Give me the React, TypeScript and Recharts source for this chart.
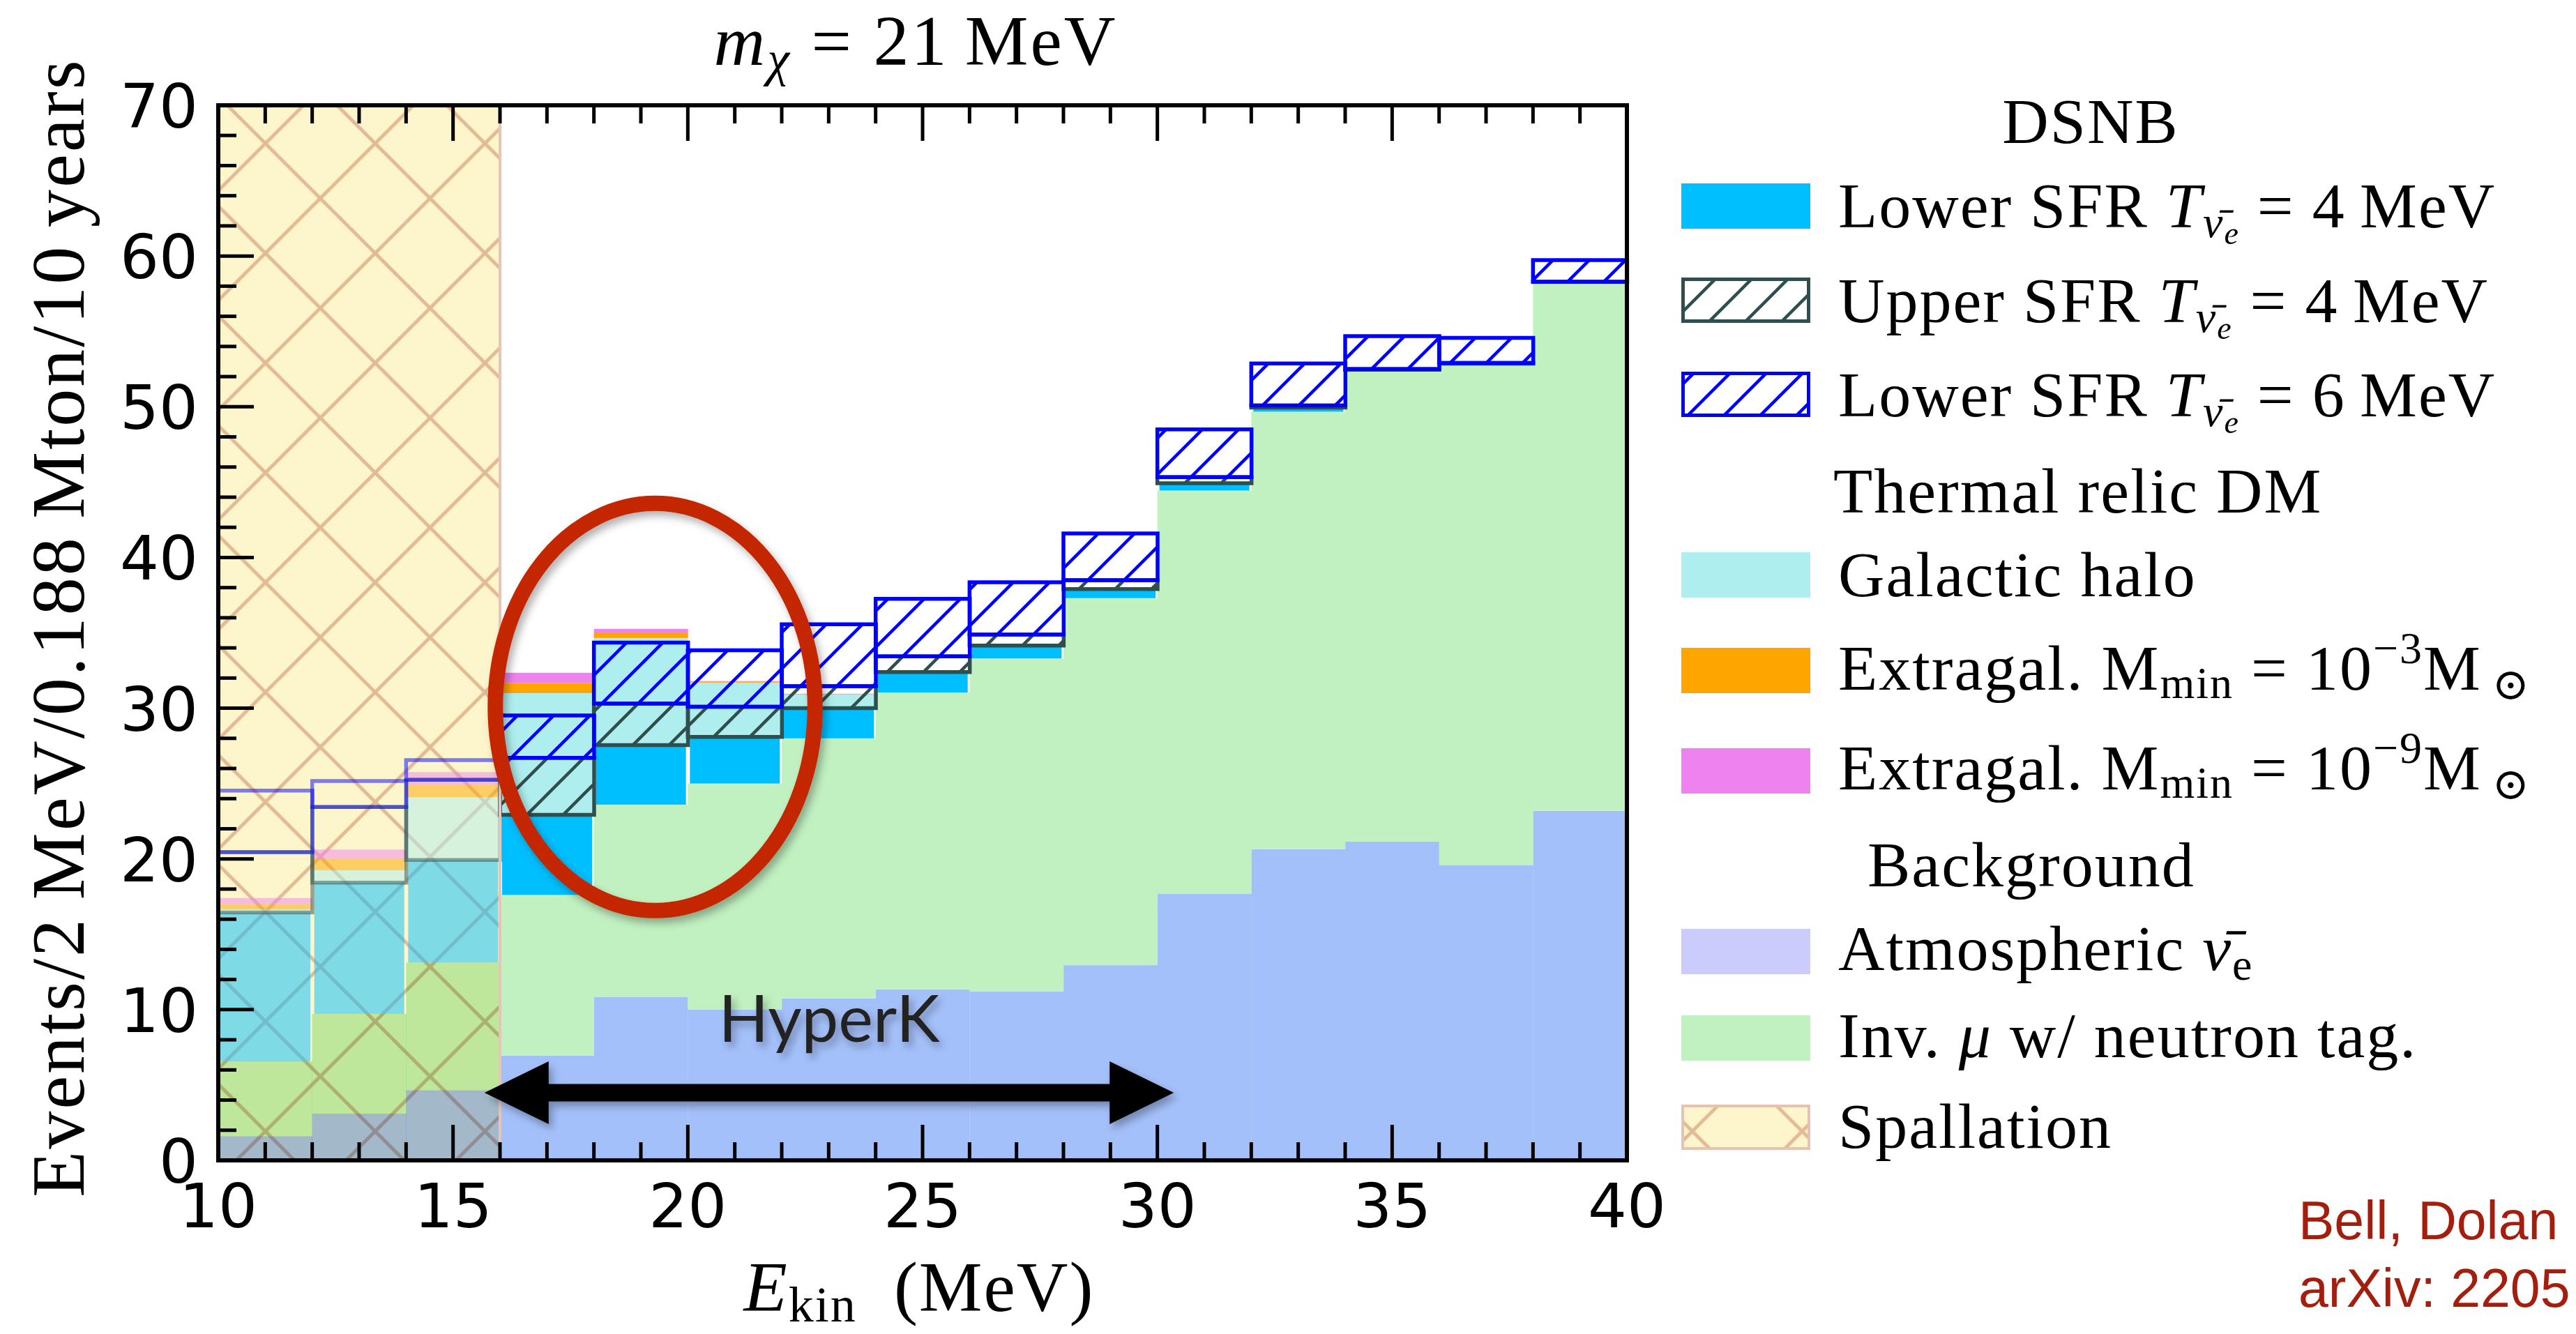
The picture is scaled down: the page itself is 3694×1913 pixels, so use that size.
import React from 'react';
import {
  ComposedChart,
  Bar,
  Cell,
  XAxis,
  YAxis,
  ReferenceArea,
  ReferenceLine,
} from 'recharts';

// 2 MeV bins, lower edges (MeV)
const binStart = [10, 12, 14, 16, 18, 20, 22, 24, 26, 28, 30, 32, 34, 36, 38];
const BIN_WIDTH = 2;

// stacked contributions, events per bin
const atmospheric = [1.6, 3.1, 4.65, 6.95, 10.85, 10.0, 10.75, 11.35, 11.2, 12.95, 17.7, 20.65, 21.15, 19.6, 23.2];
const invMuonTag = [4.96, 6.62, 8.47, 10.66, 12.75, 15.0, 17.25, 19.69, 22.1, 24.35, 26.74, 29.02, 31.21, 33.23, 35.08];
const lowerSFR4 = [9.89, 8.7, 6.81, 5.32, 3.95, 3.1, 2.0, 1.36, 0.85, 0.6, 0.48, 0.27, 0.09, 0.03, 0.0];
const galacticHalo = [0.2, 0.83, 4.17, 8.07, 7.11, 3.6, 0.9, 0.05, 0, 0, 0, 0, 0, 0, 0];
const extragal3 = [0.35, 0.75, 0.84, 0.68, 0.36, 0.05, 0.03, 0, 0, 0, 0, 0, 0, 0, 0];
const extragal9 = [0.4, 0.62, 0.82, 0.67, 0.24, 0.05, 0.03, 0, 0, 0, 0, 0, 0, 0, 0];
// outlined boxes: upper SFR excess over lower SFR (4 MeV), then the 6 MeV excess on top of that
const upperSFR4 = [4.0, 5.02, 5.32, 3.78, 2.75, 2.0, 1.46, 1.04, 0.74, 0.59, 0.41, 0.14, 0.05, 0.05, 0.02];
const lowerSFR6 = [4.08, 1.73, 1.31, 2.81, 4.05, 3.74, 4.11, 3.81, 3.47, 3.1, 3.17, 2.79, 2.19, 1.66, 1.43];
// spallation runs off the top of the scale below 16 MeV
const spallation = [70, 70, 70, 0, 0, 0, 0, 0, 0, 0, 0, 0, 0, 0, 0];

const xMajor = [10, 15, 20, 25, 30, 35, 40];
const yMajor = [0, 10, 20, 30, 40, 50, 60, 70];
const xTicks = Array.from({ length: 31 }, (_, i) => 10 + i);
const yTicks = Array.from({ length: 36 }, (_, i) => i * 2);

const rows = binStart.map((b, i) => ({
  bin: `${b}-${b + BIN_WIDTH}`,
  x0: b,
  atm: atmospheric[i],
  inv: invMuonTag[i],
  low: lowerSFR4[i],
  halo: galacticHalo[i],
  ex3: extragal3[i],
  ex9: extragal9[i],
  boxBase: atmospheric[i] + invMuonTag[i] + lowerSFR4[i],
  upper: upperSFR4[i],
  six: lowerSFR6[i],
  spall: spallation[i],
}));

const lastSpall = spallation.reduce((acc, v, i) => (v > 0 ? i : acc), -1);
const spallEdge = binStart[lastSpall] + BIN_WIDTH;

const W = 3694;
const H = 1913;
const PLOT = { left: 313, top: 151, right: 2333, bottom: 1664 };
const AX = 1; // axis band thickness (must be > 0 for recharts to draw the axis)

const SERIF = "'Liberation Serif', 'DejaVu Serif', serif";
const SANS = "'DejaVu Sans', sans-serif";
const MAJOR = 51;
const MINOR = 26;

const C = {
  atm: '#a4c0fa',
  atmLegend: '#cbcbfc',
  inv: '#c1f0c1',
  low: '#00bfff',
  halo: '#afeeee',
  ex3: '#ffa500',
  ex9: '#ee82ee',
  slate: '#2f4f4f',
  blue: '#0000ff',
};

const BottomTick = ({ x, y, payload }: any) => {
  const major = xMajor.includes(payload.value);
  return (
    <g>
      <line x1={x} x2={x} y1={y} y2={y - (major ? MAJOR : MINOR)} stroke="#000" strokeWidth={5} />
      {major && (
        <text x={x} y={y + 96} textAnchor="middle" fontFamily={SANS} fontSize={88} fill="#000">
          {payload.value}
        </text>
      )}
    </g>
  );
};

const TopTick = ({ x, y, payload }: any) => {
  const major = xMajor.includes(payload.value);
  return <line x1={x} x2={x} y1={y} y2={y + (major ? MAJOR : MINOR)} stroke="#000" strokeWidth={5} />;
};

const LeftTick = ({ x, y, payload }: any) => {
  const major = yMajor.includes(payload.value);
  return (
    <g>
      <line x1={x} x2={x + (major ? MAJOR : MINOR)} y1={y} y2={y} stroke="#000" strokeWidth={5} />
      {major && (
        <text x={x - 29} y={y + 32} textAnchor="end" fontFamily={SANS} fontSize={88} fill="#000">
          {payload.value}
        </text>
      )}
    </g>
  );
};

const RightTick = ({ x, y, payload }: any) => {
  const major = yMajor.includes(payload.value);
  return <line x1={x} x2={x - (major ? MAJOR : MINOR)} y1={y} y2={y} stroke="#000" strokeWidth={5} />;
};

// Inside the spallation band the stack sits on the spallation fill: backgrounds are
// multiplied into it, the signal layers are drawn half transparent.
const stackShape = (opts: { inset?: number; blend?: boolean }) => (p: any) => {
  if (!p.height) return null;
  const spall = p.payload && p.payload.spall > 0;
  const inset = opts.inset || 0;
  const top = Math.min(p.y, p.y + p.height);
  return (
    <rect
      x={p.x + inset}
      y={top}
      width={Math.max(0, p.width - 2 * inset)}
      height={Math.abs(p.height)}
      fill={p.fill}
      fillOpacity={spall && !opts.blend ? 0.5 : 1}
      style={spall && opts.blend ? { mixBlendMode: 'multiply' } : undefined}
    />
  );
};

const EllipseShape = (p: any) => (
  <ellipse
    cx={p.x + p.width / 2}
    cy={p.y + p.height / 2}
    rx={Math.abs(p.width) / 2}
    ry={Math.abs(p.height) / 2}
    fill="none"
    stroke="#c42806"
    strokeWidth={22}
    filter="url(#softShadow)"
  />
);

const ArrowShape = (p: any) => {
  const cy = p.y + p.height / 2;
  const x1 = p.x;
  const x2 = p.x + p.width;
  const hl = 92;
  const hh = 45;
  const st = 12.5;
  const d = `M${x1},${cy} L${x1 + hl},${cy - hh} L${x1 + hl},${cy - st} L${x2 - hl},${cy - st} L${x2 - hl},${cy - hh} L${x2},${cy} L${x2 - hl},${cy + hh} L${x2 - hl},${cy + st} L${x1 + hl},${cy + st} L${x1 + hl},${cy + hh} Z`;
  return (
    <g>
      <path d={d} fill="#000" filter="url(#softShadow)" />
      <text
        x={(x1 + x2) / 2}
        y={cy - 73}
        textAnchor="middle"
        fontFamily="Lato, 'Open Sans', sans-serif"
        fontSize={94}
        fill="#222"
        filter="url(#softShadow)"
      >
        HyperK
      </text>
    </g>
  );
};

const hatchPath = (s: number) =>
  `M${-s / 4},${s / 4} L${s / 4},${-s / 4} M0,${s} L${s},0 M${(3 * s) / 4},${(5 * s) / 4} L${(5 * s) / 4},${(3 * s) / 4}`;

const P = 157.4;
const crossPath = [-P, 0, P].map((d) => `M${d},0 L${d + P},${P} M${d},${P} L${d + P},0`).join(' ');

const Patterns = ({ suffix }: { suffix: string }) => (
  <defs>
    <pattern id={`hatchSlate${suffix}`} patternUnits="userSpaceOnUse" width={52} height={52}>
      <path d={hatchPath(52)} stroke={C.slate} strokeWidth={4.5} />
    </pattern>
    <pattern id={`hatchBlue${suffix}`} patternUnits="userSpaceOnUse" width={52} height={52}>
      <path d={hatchPath(52)} stroke={C.blue} strokeWidth={4.5} />
    </pattern>
    <pattern id={`spallFill${suffix}`} patternUnits="userSpaceOnUse" x={144.5} y={127} width={P} height={P}>
      <rect width={P} height={P} fill="#fdf6cd" />
      <path d={crossPath} stroke="#e2bb95" strokeWidth={5} />
    </pattern>
    <filter id={`softShadow${suffix}`} x="-20%" y="-20%" width="140%" height="140%">
      <feDropShadow dx="5" dy="7" stdDeviation="6" floodColor="#000" floodOpacity="0.3" />
    </filter>
  </defs>
);

const inSpall = (i: number) => spallation[i] > 0;

const boxCells = (key: string, pattern: string) =>
  rows.map((_, i) => (
    <Cell
      key={`${key}-${i}`}
      fill={inSpall(i) ? 'none' : pattern}
      strokeOpacity={inSpall(i) ? 0.5 : 1}
    />
  ));

const Tnue = ({ value }: { value: string }) => (
  <>
    <tspan fontStyle="italic">T</tspan>
    <tspan fontStyle="italic" fontSize={64} dy={14}>
      {'\u03BD\u0304'}
    </tspan>
    <tspan fontStyle="italic" fontSize={46} dy={10}>
      e
    </tspan>
    <tspan dy={-24}>{` = ${value}\u2009MeV`}</tspan>
  </>
);

const Mmin = ({ exp }: { exp: string }) => (
  <>
    <tspan>Extragal. M</tspan>
    <tspan fontSize={64} dy={12}>
      min
    </tspan>
    <tspan dy={-12}>{' = 10'}</tspan>
    <tspan fontSize={64} dy={-38}>
      {`\u2212${exp}`}
    </tspan>
    <tspan dy={38}>M</tspan>
    <tspan fontSize={64} dy={14}>
      {'\u2009\u2299'}
    </tspan>
  </>
);

const LX = 2411;
const TX = 2636;
const PW = 185;
const PH = 65;

const Legend = () => {
  const patches: { y: number; fill: string; stroke?: string; sw?: number }[] = [
    { y: 263, fill: C.low },
    { y: 398, fill: 'url(#hatchSlateL)', stroke: C.slate, sw: 5 },
    { y: 533, fill: 'url(#hatchBlueL)', stroke: C.blue, sw: 5 },
    { y: 792, fill: C.halo },
    { y: 929, fill: C.ex3 },
    { y: 1073, fill: C.ex9 },
    { y: 1332, fill: C.atmLegend },
    { y: 1456, fill: C.inv },
    { y: 1584, fill: 'url(#spallFillL)', stroke: '#e6c2b2', sw: 4 },
  ];
  const ts = { fontFamily: SERIF, fontSize: 92, letterSpacing: 2, fill: '#000' } as const;
  return (
    <g>
      {patches.map((p, i) => (
        <rect
          key={i}
          x={LX + (p.sw ? p.sw / 2 : 0)}
          y={p.y + (p.sw ? p.sw / 2 : 0)}
          width={PW - (p.sw || 0)}
          height={PH - (p.sw || 0)}
          fill={p.fill}
          stroke={p.stroke}
          strokeWidth={p.sw}
        />
      ))}
      <text x={2998} y={205} textAnchor="middle" {...ts}>DSNB</text>
      <text x={TX} y={326} {...ts}>
        <tspan>Lower SFR </tspan>
        <Tnue value="4" />
      </text>
      <text x={TX} y={462} {...ts}>
        <tspan>Upper SFR </tspan>
        <Tnue value="4" />
      </text>
      <text x={TX} y={597} {...ts}>
        <tspan>Lower SFR </tspan>
        <Tnue value="6" />
      </text>
      <text x={2629} y={735} {...ts}>Thermal relic DM</text>
      <text x={TX} y={855} {...ts}>Galactic halo</text>
      <text x={TX} y={989} {...ts}>
        <Mmin exp="3" />
      </text>
      <text x={TX} y={1132} {...ts}>
        <Mmin exp="9" />
      </text>
      <text x={2678} y={1271} {...ts}>Background</text>
      <text x={TX} y={1391} {...ts}>
        <tspan>Atmospheric </tspan>
        <tspan fontStyle="italic">{'\u03BD\u0304'}</tspan>
        <tspan fontSize={64} dy={14}>e</tspan>
      </text>
      <text x={TX} y={1516} {...ts}>
        <tspan>Inv. </tspan>
        <tspan fontStyle="italic">{'\u03BC'}</tspan>
        <tspan> w/ neutron tag.</tspan>
      </text>
      <text x={TX} y={1646} {...ts}>Spallation</text>
    </g>
  );
};

const axisLine = { stroke: '#000', strokeWidth: 6, strokeLinecap: 'square' as const };

export default function App() {
  return (
    <div style={{ position: 'absolute', left: 0, top: 0, width: W, height: H, background: '#fff' }}>
      <ComposedChart
        width={W}
        height={H}
        data={rows}
        margin={{
          top: PLOT.top - AX,
          left: PLOT.left - AX,
          right: W - PLOT.right - AX,
          bottom: H - PLOT.bottom - AX,
        }}
        barCategoryGap={0}
        barGap={0}
      >
        <Patterns suffix="" />
        <XAxis
          xAxisId="num"
          dataKey="x0"
          type="number"
          domain={[10, 40]}
          ticks={xTicks}
          height={AX}
          tickSize={0}
          tickMargin={0}
          interval={0}
          tick={<BottomTick />}
          tickLine={false}
          axisLine={axisLine}
        />
        <XAxis
          xAxisId="top"
          orientation="top"
          dataKey="x0"
          type="number"
          domain={[10, 40]}
          ticks={xTicks}
          height={AX}
          tickSize={0}
          tickMargin={0}
          interval={0}
          tick={<TopTick />}
          tickLine={false}
          axisLine={axisLine}
        />
        <XAxis xAxisId="spallAxis" dataKey="bin" type="category" scale="band" height={0} hide />
        <XAxis xAxisId="fills" dataKey="bin" type="category" scale="band" height={0} hide />
        <XAxis xAxisId="boxes" dataKey="bin" type="category" scale="band" height={0} hide />
        <YAxis
          yAxisId="left"
          type="number"
          domain={[0, 70]}
          ticks={yTicks}
          width={AX}
          tickSize={0}
          tickMargin={0}
          interval={0}
          tick={<LeftTick />}
          tickLine={false}
          axisLine={axisLine}
        />
        <YAxis
          yAxisId="right"
          orientation="right"
          type="number"
          domain={[0, 70]}
          ticks={yTicks}
          width={AX}
          tickSize={0}
          tickMargin={0}
          interval={0}
          tick={<RightTick />}
          tickLine={false}
          axisLine={axisLine}
        />

        <Bar xAxisId="spallAxis" yAxisId="left" dataKey="spall" fill="url(#spallFill)" isAnimationActive={false} />

        <Bar
          xAxisId="fills"
          yAxisId="left"
          stackId="fill"
          dataKey="atm"
          fill={C.atm}
          shape={stackShape({ blend: true })}
          isAnimationActive={false}
        />
        <Bar
          xAxisId="fills"
          yAxisId="left"
          stackId="fill"
          dataKey="inv"
          fill={C.inv}
          shape={stackShape({ blend: true })}
          isAnimationActive={false}
        />
        <Bar
          xAxisId="fills"
          yAxisId="left"
          stackId="fill"
          dataKey="low"
          fill={C.low}
          shape={stackShape({ inset: 3 })}
          isAnimationActive={false}
        />
        <Bar
          xAxisId="fills"
          yAxisId="left"
          stackId="fill"
          dataKey="halo"
          fill={C.halo}
          shape={stackShape({})}
          isAnimationActive={false}
        />
        <Bar
          xAxisId="fills"
          yAxisId="left"
          stackId="fill"
          dataKey="ex3"
          fill={C.ex3}
          shape={stackShape({})}
          isAnimationActive={false}
        />
        <Bar
          xAxisId="fills"
          yAxisId="left"
          stackId="fill"
          dataKey="ex9"
          fill={C.ex9}
          shape={stackShape({})}
          isAnimationActive={false}
        />

        <Bar xAxisId="boxes" yAxisId="left" stackId="box" dataKey="boxBase" fill="none" isAnimationActive={false} />
        <Bar
          xAxisId="boxes"
          yAxisId="left"
          stackId="box"
          dataKey="upper"
          fill="url(#hatchSlate)"
          stroke={C.slate}
          strokeWidth={5.5}
          isAnimationActive={false}
        >
          {boxCells('upper', 'url(#hatchSlate)')}
        </Bar>
        <Bar
          xAxisId="boxes"
          yAxisId="left"
          stackId="box"
          dataKey="six"
          fill="url(#hatchBlue)"
          stroke={C.blue}
          strokeWidth={5.5}
          isAnimationActive={false}
        >
          {boxCells('six', 'url(#hatchBlue)')}
        </Bar>

        <ReferenceLine xAxisId="num" yAxisId="left" x={spallEdge} stroke="#e6c4ba" strokeWidth={4} />
        <ReferenceArea
          xAxisId="num"
          yAxisId="left"
          x1={15.9}
          x2={22.71}
          y1={16.57}
          y2={43.59}
          shape={EllipseShape}
          zIndex={2500}
        />
        <ReferenceArea
          xAxisId="num"
          yAxisId="left"
          x1={15.67}
          x2={30.35}
          y1={3.49}
          y2={5.49}
          shape={ArrowShape}
          zIndex={2500}
        />
      </ComposedChart>

      <svg width={W} height={H} style={{ position: 'absolute', left: 0, top: 0, pointerEvents: 'none' }}>
        <Patterns suffix="L" />
        <text x={1313} y={93} textAnchor="middle" fontFamily={SERIF} fontSize={102} letterSpacing={3}>
          <tspan fontStyle="italic">m</tspan>
          <tspan fontStyle="italic" fontSize={72} dy={16}>
            {'\u03C7'}
          </tspan>
          <tspan dy={-16}>{' = 21\u2009MeV'}</tspan>
        </text>
        <text x={1318} y={1880} textAnchor="middle" fontFamily={SERIF} fontSize={102} letterSpacing={2}>
          <tspan fontStyle="italic">E</tspan>
          <tspan fontSize={72} dy={15}>
            kin
          </tspan>
          <tspan dy={-15}>{'\u2002(MeV)'}</tspan>
        </text>
        <text
          transform="translate(120,900) rotate(-90)"
          textAnchor="middle"
          fontFamily={SERIF}
          fontSize={108}
          letterSpacing={3}
        >
          {'Events/2\u2009MeV/0.188\u2009Mton/10\u2009years'}
        </text>
        <Legend />
        <text x={3296} y={1777} fontFamily="'Liberation Sans', Arial, sans-serif" fontSize={77} fill="#a41e0e">
          Bell, Dolan
        </text>
        <text x={3296} y={1874} fontFamily="'Liberation Sans', Arial, sans-serif" fontSize={77} fill="#a41e0e">
          arXiv: 2205
        </text>
      </svg>
    </div>
  );
}
